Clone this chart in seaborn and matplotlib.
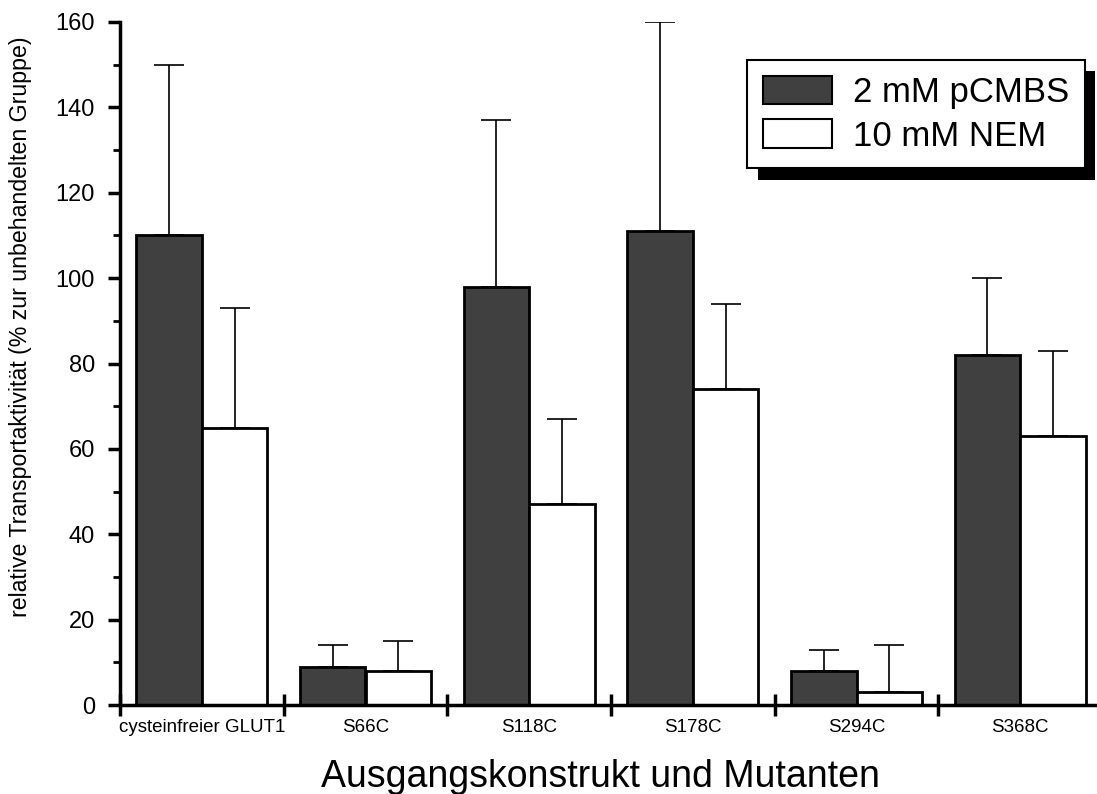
import numpy as np
import pandas as pd
import matplotlib
matplotlib.use("Agg")
import matplotlib.pyplot as plt
import matplotlib.patheffects as pe
from matplotlib.ticker import MultipleLocator, FixedLocator
import seaborn as sns

categories = ["cysteinfreier GLUT1", "S66C", "S118C", "S178C", "S294C", "S368C"]
treatments = ["2 mM pCMBS", "10 mM NEM"]
pcmbs_mean = [110, 9, 98, 111, 8, 82]
pcmbs_upper = [150, 14, 137, 160, 13, 100]
nem_mean = [65, 8, 47, 74, 3, 63]
nem_upper = [93, 15, 67, 94, 14, 83]

df = pd.DataFrame({
    "Konstrukt": categories * 2,
    "Behandlung": [treatments[0]] * len(categories) + [treatments[1]] * len(categories),
    "Wert": pcmbs_mean + nem_mean,
    "Oben": pcmbs_upper + nem_upper,
})

sns.set_theme(style="ticks")
plt.rcParams["font.family"] = ["Liberation Sans", "DejaVu Sans"]
plt.rcParams.update({"text.color": "black", "axes.labelcolor": "black",
                     "xtick.color": "black", "ytick.color": "black"})

fig = plt.figure(figsize=(10.97, 7.94), dpi=100)
ax = fig.add_axes([120 / 1097, 89 / 794, 982 / 1097, 683 / 794])

sns.barplot(data=df, x="Konstrukt", y="Wert", hue="Behandlung",
            hue_order=treatments, order=categories,
            palette=["#404040", "#ffffff"], errorbar=None,
            edgecolor="black", linewidth=2, width=0.8, saturation=1,
            ax=ax, zorder=2)

# upward-only error bars
for cont, tr in zip(ax.containers, treatments):
    sub = df[df["Behandlung"] == tr].set_index("Konstrukt").loc[categories]
    for bar, (val, top) in zip(cont.patches, zip(sub["Wert"], sub["Oben"])):
        xc = bar.get_x() + bar.get_width() / 2
        ax.errorbar([xc], [val], yerr=[[0], [top - val]], fmt="none",
                    ecolor="black", elinewidth=1.2, capsize=11, capthick=1.2,
                    zorder=1)

ax.set_ylim(0, 160)
ax.set_xlim(-0.5, len(categories) - 0.5)
ax.yaxis.set_major_locator(MultipleLocator(20))
ax.yaxis.set_minor_locator(MultipleLocator(10))
ax.tick_params(axis="y", which="major", length=9, width=2.5, labelsize=17,
               direction="out", pad=9)
ax.tick_params(axis="y", which="minor", length=5, width=2, direction="out")

# category labels centred, tick marks between groups
ax.set_xticks(range(len(categories)))
ax.set_xticklabels(categories, fontsize=13.5)
ax.tick_params(axis="x", which="major", length=0, pad=10)
ax.xaxis.set_minor_locator(FixedLocator(np.arange(-0.5, len(categories), 1.0)))
ax.tick_params(axis="x", which="minor", length=16, width=2.5, direction="inout")

for side in ("top", "right"):
    ax.spines[side].set_visible(False)
for side in ("left", "bottom"):
    ax.spines[side].set_linewidth(2.5)
    ax.spines[side].set_color("black")

ax.set_xlabel("Ausgangskonstrukt und Mutanten", fontsize=27)
ax.xaxis.set_label_coords(480 / 982, -54 / 683)
ax.set_ylabel("relative Transportaktivität (% zur unbehandelten Gruppe)", fontsize=16.7)
ax.yaxis.set_label_coords(-88 / 982, 378 / 683)

leg = ax.legend(loc="upper right", bbox_to_anchor=(965 / 982, 645 / 683),
                fontsize=25, frameon=True, fancybox=False, framealpha=1,
                edgecolor="black", handlelength=2.0, handleheight=0.9,
                borderpad=0.45, labelspacing=0.3, handletextpad=0.6,
                borderaxespad=0)
frame = leg.get_frame()
frame.set_linewidth(1.5)
frame.set_path_effects([pe.SimplePatchShadow(offset=(7.5, -8), shadow_rgbFace="black", alpha=1),
                        pe.Normal()])
for h in leg.legend_handles:
    h.set_edgecolor("black")
    h.set_linewidth(1.5)

fig.savefig("out.png", dpi=100)
